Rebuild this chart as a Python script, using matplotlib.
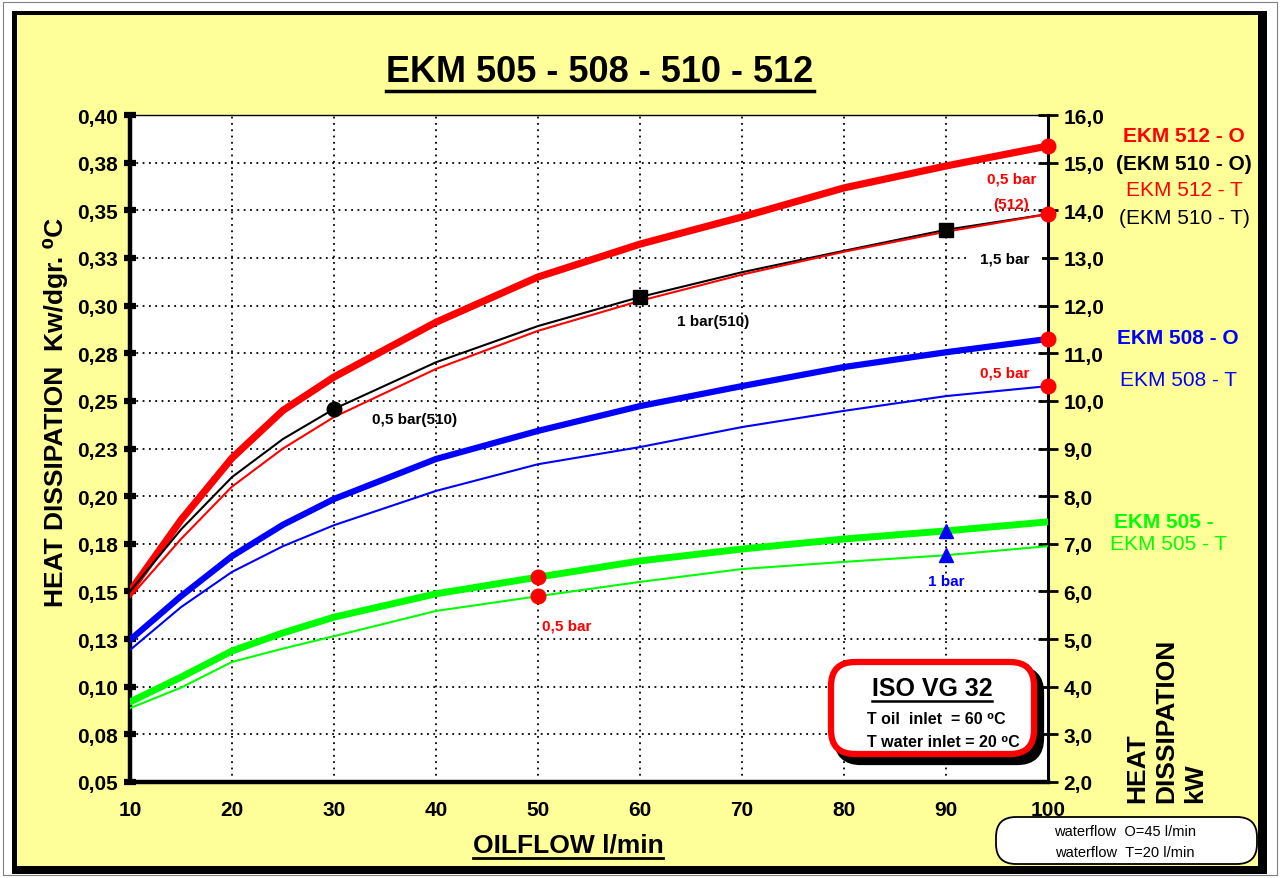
import matplotlib
matplotlib.use("Agg")
import matplotlib.pyplot as plt
import numpy as np
from matplotlib.patches import Rectangle, FancyBboxPatch
from matplotlib.lines import Line2D
from matplotlib.transforms import IdentityTransform

plt.rcParams['font.family'] = ['Liberation Sans', 'DejaVu Sans']

W, H = 1281, 879
DT = 40.0  # 60 - 20 degC, kW -> kW/degC

# oil flow (l/min) and heat dissipation (kW)
flow = [10, 15, 20, 25, 30, 40, 50, 60, 70, 80, 90, 100]
ekm512_o = [6.00, 7.50, 8.80, 9.80, 10.50, 11.65, 12.60, 13.29, 13.86, 14.47, 14.93, 15.35]
ekm510_t = [6.00, 7.30, 8.40, 9.20, 9.83, 10.81, 11.57, 12.18, 12.70, 13.15, 13.59, 13.92]
ekm512_t = [5.88, 7.10, 8.20, 9.00, 9.66, 10.67, 11.47, 12.10, 12.65, 13.13, 13.55, 13.92]
ekm508_o = [4.98, 5.90, 6.74, 7.40, 7.94, 8.78, 9.37, 9.89, 10.31, 10.71, 11.02, 11.30]
ekm508_t = [4.77, 5.67, 6.41, 6.95, 7.39, 8.11, 8.67, 9.03, 9.45, 9.79, 10.10, 10.31]
ekm505_o = [3.68, 4.20, 4.75, 5.13, 5.46, 5.95, 6.30, 6.64, 6.89, 7.10, 7.27, 7.46]
ekm505_t = [3.55, 3.98, 4.52, 4.80, 5.06, 5.59, 5.90, 6.20, 6.47, 6.62, 6.76, 6.95]

# pressure drop markers
circle_x, circle_y = [30], [9.83]
square_x, square_y = [60, 90], [12.18, 13.59]
dot_x = [100, 100, 100, 100, 50, 50]
dot_y = [15.35, 13.92, 11.30, 10.31, 6.30, 5.90]
tri_x, tri_y = [90, 90], [7.27, 6.76]

x_ticks = [10, 20, 30, 40, 50, 60, 70, 80, 90, 100]
left_ticks = list(np.arange(0.05, 0.4001, 0.025))
left_labels = ["0,05", "0,08", "0,10", "0,13", "0,15", "0,18", "0,20", "0,23",
               "0,25", "0,28", "0,30", "0,33", "0,35", "0,38", "0,40"]
right_ticks = list(range(2, 17))


def px(x, y):
    return x / W, 1 - y / H


def pbox(x0, y0, x1, y1, **kw):
    # rounded box given in image pixels (top-left origin)
    return FancyBboxPatch((x0, H - y1), x1 - x0, y1 - y0, transform=IdentityTransform(), **kw)


fig = plt.figure(figsize=(W / 100, H / 100), dpi=100, facecolor="white")

# frame: gray outline, black border with shadow, yellow panel
fig.patches.append(Rectangle(px(3, 876), 1274 / W, 873 / H, transform=fig.transFigure,
                             fill=False, ec="#808080", lw=0.8, zorder=-3))
fig.patches.append(Rectangle(px(12, 875), 1255 / W, 863 / H, transform=fig.transFigure,
                             fc="black", ec="none", zorder=-3))
fig.patches.append(Rectangle(px(17, 867), 1241 / W, 851 / H, transform=fig.transFigure,
                             fc="#FFFF99", ec="none", zorder=-2))

ax = fig.add_axes([130 / W, 1 - 783 / H, 918 / W, 667 / H])
ax.set_zorder(1)
ax.set_facecolor("white")
ax.set_xlim(10, 100)
ax.set_ylim(0.05, 0.40)

fl = np.array(flow)
ax.plot(fl, np.array(ekm512_o) / DT, color="#FF0000", lw=5.2, solid_capstyle="round",
        solid_joinstyle="round", zorder=3)
ax.plot(fl, np.array(ekm510_t) / DT, color="black", lw=1.5, zorder=3)
ax.plot(fl, np.array(ekm512_t) / DT, color="#FF0000", lw=1.5, zorder=3)
ax.plot(fl, np.array(ekm508_o) / DT, color="#0000FF", lw=4.5, solid_capstyle="round",
        solid_joinstyle="round", zorder=3)
ax.plot(fl, np.array(ekm508_t) / DT, color="#0000FF", lw=1.5, zorder=3)
ax.plot(fl, np.array(ekm505_o) / DT, color="#00FF00", lw=5.0, solid_capstyle="round",
        solid_joinstyle="round", zorder=3)
ax.plot(fl, np.array(ekm505_t) / DT, color="#00FF00", lw=1.5, zorder=3)

ax.plot(circle_x, np.array(circle_y) / DT, "o", color="black", ms=10.5, zorder=5, clip_on=False)
ax.plot(square_x, np.array(square_y) / DT, "s", color="black", ms=10, zorder=5, clip_on=False)
ax.plot(dot_x, np.array(dot_y) / DT, "o", color="#FF0000", ms=10.5, zorder=5, clip_on=False)
ax.plot(tri_x, np.array(tri_y) / DT, "^", color="#0000FF", ms=10.5, zorder=5, clip_on=False)

# grid
ax.set_xticks(x_ticks)
ax.set_xticklabels([str(v) for v in x_ticks])
ax.set_yticks(left_ticks)
ax.set_yticklabels(left_labels)
ax.grid(True, color="black", ls=(0, (1, 2.5)), lw=1.3)
ax.set_axisbelow(True)

for lbl in ax.get_xticklabels() + ax.get_yticklabels():
    lbl.set_fontweight("bold")
    lbl.set_fontsize(15)
ax.tick_params(axis="y", direction="inout", length=9, width=4.5, pad=4)
ax.tick_params(axis="x", direction="inout", length=0, width=0, pad=13)

ax.spines["left"].set_linewidth(3.2)
ax.spines["bottom"].set_linewidth(3.2)
ax.spines["top"].set_linewidth(1.0)
ax.spines["right"].set_visible(False)

sec = ax.secondary_yaxis("right", functions=(lambda v: v * DT, lambda v: v / DT))
sec.set_yticks(right_ticks)
sec.set_yticklabels([f"{v},0" for v in right_ticks])
sec.spines["right"].set_linewidth(2.2)
sec.tick_params(direction="inout", length=14, width=2, pad=4)
for lbl in sec.get_yticklabels():
    lbl.set_fontweight("bold")
    lbl.set_fontsize(15)

# annotations near markers
ax.text(37.9, 9.62 / DT, "0,5 bar(510)", fontsize=11, fontweight="bold", ha="center", va="center", zorder=6)
ax.text(67.2, 11.68 / DT, "1 bar(510)", fontsize=11, fontweight="bold", ha="center", va="center", zorder=6)
ax.text(95.8, 12.98 / DT, "1,5 bar", fontsize=11, fontweight="bold", ha="center", va="center", zorder=6,
        bbox=dict(fc="white", ec="none", pad=9))
ax.text(96.4, 14.66 / DT, "0,5 bar", fontsize=11, fontweight="bold", color="#FF0000", ha="center", va="center", zorder=6)
ax.text(96.4, 14.13 / DT, "(512)", fontsize=11, fontweight="bold", color="#FF0000", ha="center", va="center", zorder=6)
ax.text(95.8, 10.60 / DT, "0,5 bar", fontsize=11, fontweight="bold", color="#FF0000", ha="center", va="center", zorder=6)
ax.text(52.8, 5.29 / DT, "0,5 bar", fontsize=11, fontweight="bold", color="#FF0000", ha="center", va="center", zorder=6)
ax.text(90.0, 6.22 / DT, "1 bar", fontsize=11, fontweight="bold", color="#0000FF", ha="center", va="center", zorder=6)

# series labels on the right
right_labels = [
    (1184, 137, "EKM 512 - O", "#FF0000", "bold"),
    (1184, 165, "(EKM 510 - O)", "black", "bold"),
    (1184, 191, "EKM 512 - T", "#FF0000", "normal"),
    (1184, 219, "(EKM 510 - T)", "black", "normal"),
    (1178, 338, "EKM 508 - O", "#0000FF", "bold"),
    (1178, 380, "EKM 508 - T", "#0000FF", "normal"),
    (1164, 523, "EKM 505 -", "#00FF00", "bold"),
    (1168, 545, "EKM 505 - T", "#00FF00", "normal"),
]
for xx, yy, s, c, w in right_labels:
    fig.text(*px(xx, yy), s, color=c, fontweight=w, fontsize=15, ha="center", va="center")

# axis titles
fig.text(*px(56, 412), "HEAT DISSIPATION  Kw/dgr. \u2070C", rotation=90, fontsize=19,
         fontweight="bold", ha="center", va="center")
fig.text(*px(1166, 803), "HEAT\nDISSIPATION\nkW", rotation=90, fontsize=19, fontweight="bold",
         ha="center", va="bottom", multialignment="left", linespacing=1.25)

title = fig.text(*px(600, 72), "EKM 505 - 508 - 510 - 512", fontsize=26, fontweight="bold",
                 ha="center", va="center")
xlab = fig.text(*px(568, 846), "OILFLOW l/min", fontsize=19, fontweight="bold",
                ha="center", va="center")

# ISO VG box with shadow
fig.patches.append(pbox(837, 670, 1041, 763, boxstyle="round,pad=0,rounding_size=24",
                        fc="black", ec="black", lw=4.5, zorder=5))
fig.patches.append(pbox(831, 663, 1034, 755, boxstyle="round,pad=0,rounding_size=24",
                        fc="white", ec="#FF0000", lw=4.5, zorder=6))
iso = fig.text(*px(932, 689), "ISO VG 32", fontsize=18, fontweight="bold", ha="center", va="center", zorder=7)
fig.text(*px(867, 720), "T oil  inlet  = 60 \u2070C", fontsize=11.5, fontweight="bold", ha="left", va="center", zorder=7)
fig.text(*px(867, 743), "T water inlet = 20 \u2070C", fontsize=11.5, fontweight="bold", ha="left", va="center", zorder=7)

# waterflow box
fig.patches.append(pbox(996, 818, 1257, 865, boxstyle="round,pad=0,rounding_size=20",
                        fc="white", ec="black", lw=1.3, zorder=5))
fig.text(*px(1125, 832), "waterflow  O=45 l/min", fontsize=10.5, ha="center", va="center", zorder=7)
fig.text(*px(1125, 853), "waterflow  T=20 l/min", fontsize=10.5, ha="center", va="center", zorder=7)

# underlines
fig.canvas.draw()
renderer = fig.canvas.get_renderer()
for t, lw, off in [(title, 2.5, 4), (xlab, 2.0, 3), (iso, 1.8, 3)]:
    bb = t.get_window_extent(renderer)
    yline = bb.y0 - off + 2
    fig.lines.append(Line2D([bb.x0 / W, bb.x1 / W], [yline / H, yline / H], transform=fig.transFigure,
                            color="black", lw=lw, zorder=8))

fig.savefig("out.png", dpi=100, facecolor="white")
